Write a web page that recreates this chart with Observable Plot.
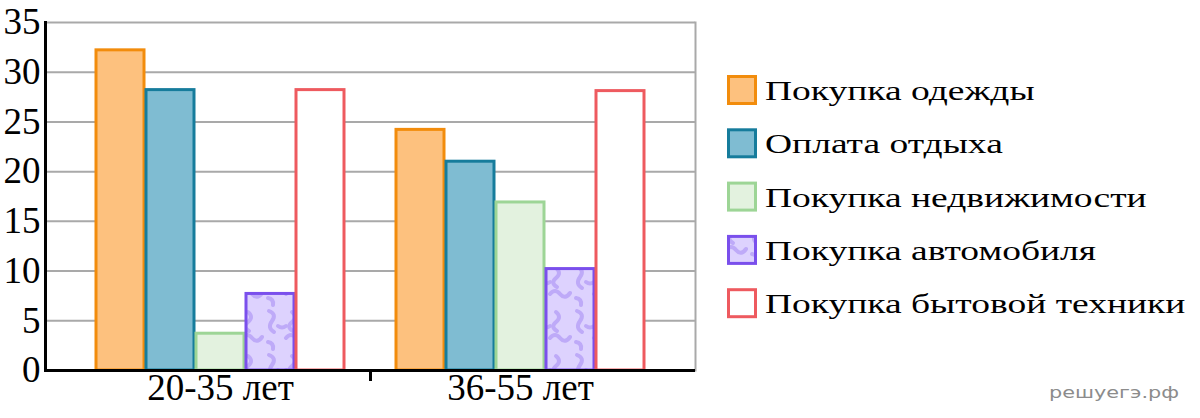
<!DOCTYPE html>
<html>
<head>
<meta charset="utf-8">
<script src="https://cdn.jsdelivr.net/npm/d3@7"></script>
<script src="https://cdn.jsdelivr.net/npm/@observablehq/plot@0.6"></script>
<style>
  html, body { margin: 0; padding: 0; background: #fff; }
  #wrap { position: relative; width: 1200px; height: 418px; overflow: hidden; }
  #chart { position: absolute; left: 0; top: 0; }
  #legend { position: absolute; left: 0; top: 0; }
</style>
</head>
<body>
<div id="wrap"><div id="chart"></div><svg id="legend" width="1200" height="418"></svg></div>
<script>
// ---- data ----
const groups = ["20-35 лет", "36-55 лет"];
const series = ["Покупка одежды", "Оплата отдыха", "Покупка недвижимости", "Покупка автомобиля", "Покупка бытовой техники"];
const values2035 = [32.2, 28.2, 3.7, 7.7, 28.2];
const values3655 = [24.2, 21.0, 16.9, 10.2, 28.1];
const yTicks = [0, 5, 10, 15, 20, 25, 30, 35];
const fills = ["#FDC17E", "#7FBCD2", "#E3F2DF", "url(#wavy)", "#FFFFFF"];
const strokes = ["#F28C0C", "#167C9C", "#9DD596", "#7A4FEC", "#EE5A5F"];
const watermark = "решуегэ.рф";

// ---- table ----
const groupValues = [values2035, values3655];
const table = [];
groups.forEach((g, gi) => series.forEach((s, si) => table.push({slot: g + "|" + s, group: g, series: s, value: groupValues[gi][si]})));
const slotDomain = ["·left", ...series.map(s => groups[0] + "|" + s), "·gap", ...series.map(s => groups[1] + "|" + s), "·right"];
const groupCenters = groups.map(g => ({group: g, slot: g + "|" + series[2]}));

const ns = "http://www.w3.org/2000/svg";
const serif = "'Liberation Serif', 'Times New Roman', serif";

const chart = Plot.plot({
  width: 710,
  height: 418,
  marginLeft: 45,
  marginRight: 15,
  marginTop: 22,
  marginBottom: 48,
  x: {domain: slotDomain, padding: 0, axis: null, label: null},
  y: {domain: [0, 35], axis: null, label: null},
  style: {fontFamily: serif, fontSize: "37px", color: "#000", background: "transparent", overflow: "visible"},
  marks: [
    Plot.gridY(yTicks, {stroke: "#a9a9a9", strokeOpacity: 1, strokeWidth: 2}),
    Plot.frame({anchor: "right", stroke: "#a9a9a9", strokeWidth: 2}),
    ...series.map((s, i) => Plot.barY(table.filter(d => d.series === s), {
      x: "slot", y: "value", fill: fills[i], stroke: strokes[i], strokeWidth: 3, insetLeft: 1, insetRight: 1
    })),
    Plot.ruleY([0], {stroke: "#000", strokeWidth: 3}),
    Plot.frame({anchor: "left", stroke: "#000", strokeWidth: 3}),
    Plot.axisX(["·gap"], {tickSize: 11, stroke: "#000", strokeWidth: 3, tickFormat: () => "", label: null}),
    Plot.axisY(yTicks, {tickSize: 0, tickPadding: 5, fontSize: 37, fill: "#000", label: null}),
    Plot.text(groupCenters, {x: "slot", text: "group", frameAnchor: "bottom", lineAnchor: "top", dy: 3, fontSize: 37, fill: "#000"})
  ]
});

// wavy pattern for the car-purchase series
const defs = document.createElementNS(ns, "defs");
defs.innerHTML = `
<pattern id="wavy" patternUnits="userSpaceOnUse" width="44" height="44">
  <rect width="44" height="44" fill="#DDD2FE"/>
  <g stroke="#BEAAF8" stroke-width="4" fill="none" stroke-linecap="round">
    <path d="M5,3 q8,3 3,10 t2,11"/>
    <path d="M22,30 q5,-6 10,0 t10,-1"/>
    <path d="M28,4 q6,5 0,10 t1,9"/>
    <path d="M4,34 q6,1 5,7"/>
    <path d="M14,18 q4,3 8,0"/>
  </g>
</pattern>`;
chart.insertBefore(defs, chart.firstChild);
document.getElementById("chart").appendChild(chart);

// ---- legend ----
const legend = document.getElementById("legend");
const defs2 = defs.cloneNode(true);
defs2.querySelector("pattern").setAttribute("id", "wavyL");
legend.appendChild(defs2);
series.forEach((s, i) => {
  const top = 75 + i * 53.3;
  const r = document.createElementNS(ns, "rect");
  r.setAttribute("x", 728.5); r.setAttribute("y", top + 1.5);
  r.setAttribute("width", 27); r.setAttribute("height", 27);
  r.setAttribute("fill", fills[i] === "url(#wavy)" ? "url(#wavyL)" : fills[i]);
  r.setAttribute("stroke", strokes[i]); r.setAttribute("stroke-width", 3);
  legend.appendChild(r);
  const t = document.createElementNS(ns, "text");
  t.setAttribute("transform", `translate(765,${top + 25}) scale(1.34,1)`);
  t.setAttribute("font-family", serif);
  t.setAttribute("font-size", 28);
  t.setAttribute("fill", "#000");
  t.textContent = s;
  legend.appendChild(t);
});
const w = document.createElementNS(ns, "text");
w.setAttribute("transform", "translate(1049,398) scale(1.3,1)");
w.setAttribute("font-family", "'DejaVu Sans', sans-serif");
w.setAttribute("font-size", 16);
w.setAttribute("fill", "#8c8c8c");
w.textContent = watermark;
legend.appendChild(w);
</script>
</body>
</html>
